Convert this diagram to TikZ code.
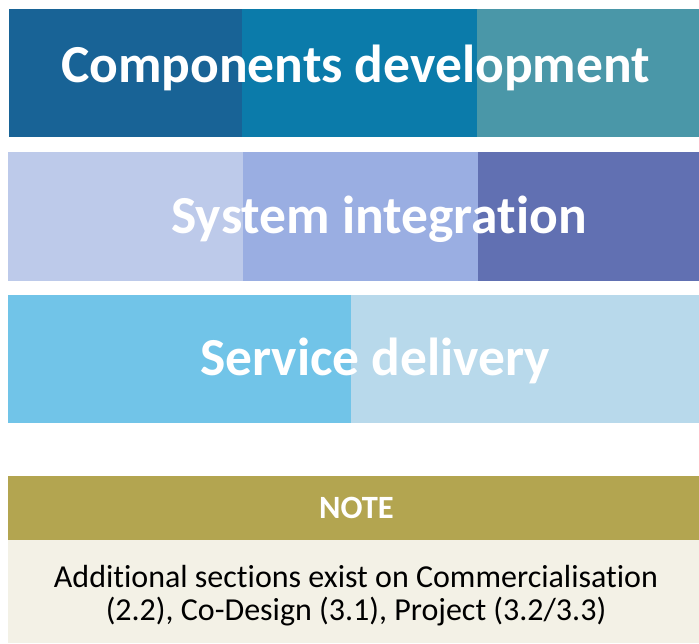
\documentclass[tikz,border=0pt]{standalone}
\usepackage{fontspec}
\setmainfont{Carlito}[Ligatures={NoCommon}]
\definecolor{cA1}{RGB}{24,99,150}
\definecolor{cA2}{RGB}{11,123,170}
\definecolor{cA3}{RGB}{74,151,168}
\definecolor{cB1}{RGB}{189,202,234}
\definecolor{cB2}{RGB}{154,174,226}
\definecolor{cB3}{RGB}{97,112,178}
\definecolor{cC1}{RGB}{113,196,232}
\definecolor{cC2}{RGB}{184,217,235}
\definecolor{noteHead}{RGB}{179,165,80}
\definecolor{noteBody}{RGB}{243,241,230}
\tikzset{
  title/.style={anchor=base, text=white, inner sep=0pt, font=\fontsize{53.5}{60}\selectfont\bfseries},
  notehead/.style={anchor=base, text=white, inner sep=0pt, font=\fontsize{32.5}{36}\selectfont\bfseries},
  notebody/.style={anchor=base, text=black, inner sep=0pt, font=\fontsize{32}{33}\selectfont}
}
\begin{document}
\begin{tikzpicture}[x=1pt,y=-1pt]
\useasboundingbox (0,0) rectangle (699,643);
% row 1
\fill[cA1] (9,9) rectangle (242,137);
\fill[cA2] (242,9) rectangle (477,137);
\fill[cA3] (477,9) rectangle (699,137);
% row 2
\fill[cB1] (8,152) rectangle (243,281);
\fill[cB2] (243,152) rectangle (478,281);
\fill[cB3] (478,152) rectangle (699,281);
% row 3
\fill[cC1] (8,295) rectangle (351,423);
\fill[cC2] (351,295) rectangle (699,423);
% note
\fill[noteHead] (8,476) rectangle (699,540);
\fill[noteBody] (8,540) rectangle (699,643);
\node[title] (t1) at (355.5,82) {Components development};
\node[title] (t2) at (379,233) {System integration};
\node[title] (t3) at (375,375) {Service delivery};
\node[notehead] (nh) at (356.5,518) {NOTE};
\node[notebody] (nb1) at (356,587) {Additional sections exist on Commercialisation};
\node[notebody] (nb2) at (356,620) {(2.2), Co-Design (3.1), Project (3.2/3.3)};
\end{tikzpicture}
\end{document}
